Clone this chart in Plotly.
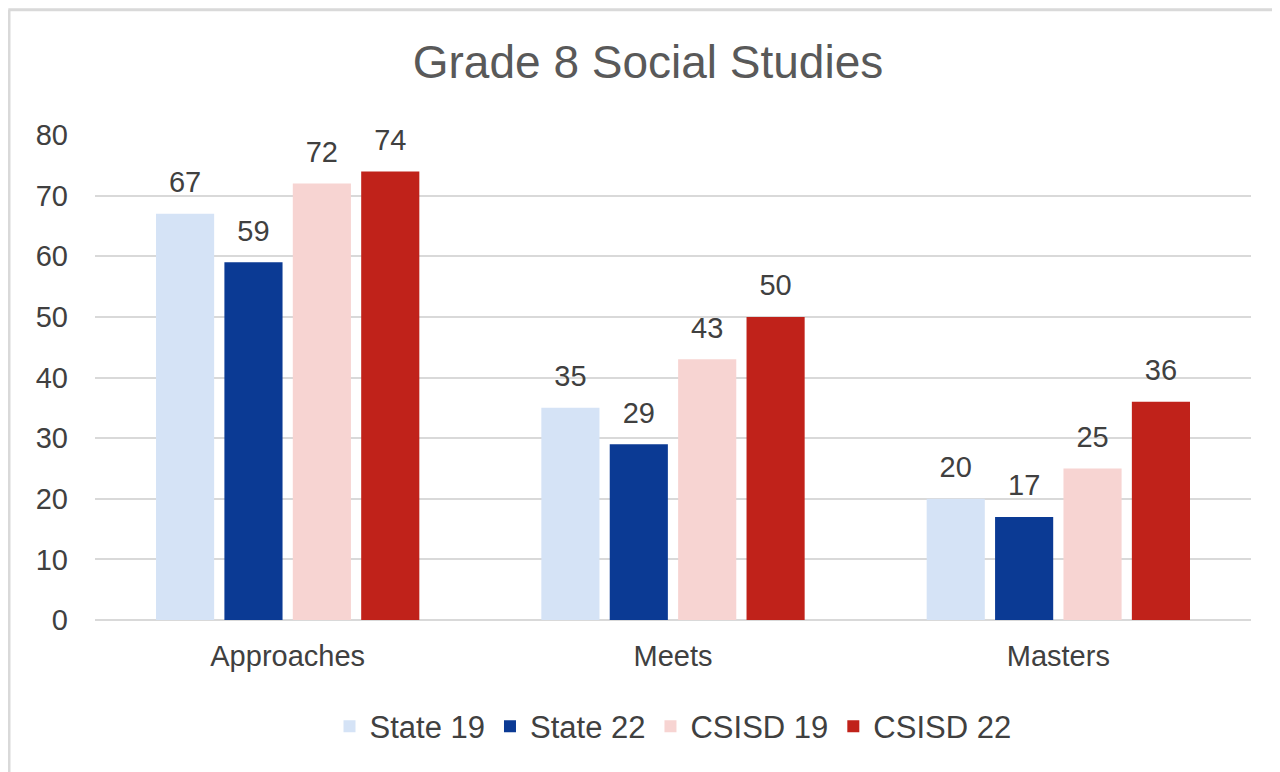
import plotly.graph_objects as go

categories = ["Approaches", "Meets", "Masters"]
series_names = ["State 19", "State 22", "CSISD 19", "CSISD 22"]
state_19 = [67, 35, 20]
state_22 = [59, 29, 17]
csisd_19 = [72, 43, 25]
csisd_22 = [74, 50, 36]
colours = ["#D5E3F6", "#0B3A94", "#F7D4D2", "#C0221A"]

fig = go.Figure()
for name, vals, col in zip(series_names, [state_19, state_22, csisd_19, csisd_22], colours):
    fig.add_trace(
        go.Bar(
            x=categories,
            y=vals,
            name=name,
            marker=dict(color=col, line=dict(width=0)),
            # blank second line (small base font) lifts the label a bit off the bar
            text=[f"<span style='font-size:29px'>{v}</span><br> " for v in vals],
            textposition="outside",
            textfont=dict(size=12, color="#404040"),
            cliponaxis=False,
        )
    )

# light frame round the chart (top and left edges only, as in the image)
fig.add_shape(type="line", xref="paper", yref="paper",
              x0=-0.075, x1=1.05, y0=1.258, y1=1.258,
              line=dict(color="#D9D9D9", width=3))
fig.add_shape(type="line", xref="paper", yref="paper",
              x0=-0.0744, x1=-0.0744, y0=-0.34, y1=1.258,
              line=dict(color="#D9D9D9", width=3))

fig.update_layout(
    width=1280,
    height=772,
    margin=dict(l=87, r=37, t=127, b=160),
    paper_bgcolor="white",
    plot_bgcolor="white",
    font=dict(family="Liberation Sans, Arial", color="#595959", size=28),
    title=dict(text="Grade 8 Social Studies", x=0.5, xanchor="center",
               y=0.93, yanchor="middle",
               font=dict(size=46, color="#595959")),
    barmode="group",
    bargap=0.29,
    bargroupgap=0.15,
    showlegend=True,
    legend=dict(orientation="h", x=0.5, xanchor="center", y=-0.22, yanchor="middle",
                font=dict(size=31, color="#404040"), itemwidth=30, traceorder="normal"),
    xaxis=dict(showgrid=False, showline=False, ticks="", ticklabelstandoff=16,
               tickfont=dict(size=29, color="#404040")),
    yaxis=dict(range=[0, 80], dtick=10, showgrid=True, gridcolor="#D9D9D9", gridwidth=2,
               zeroline=True, zerolinecolor="#D9D9D9", zerolinewidth=2,
               ticks="", ticklabelstandoff=26,
               tickfont=dict(size=29, color="#404040")),
)

fig.write_html("out.html")
